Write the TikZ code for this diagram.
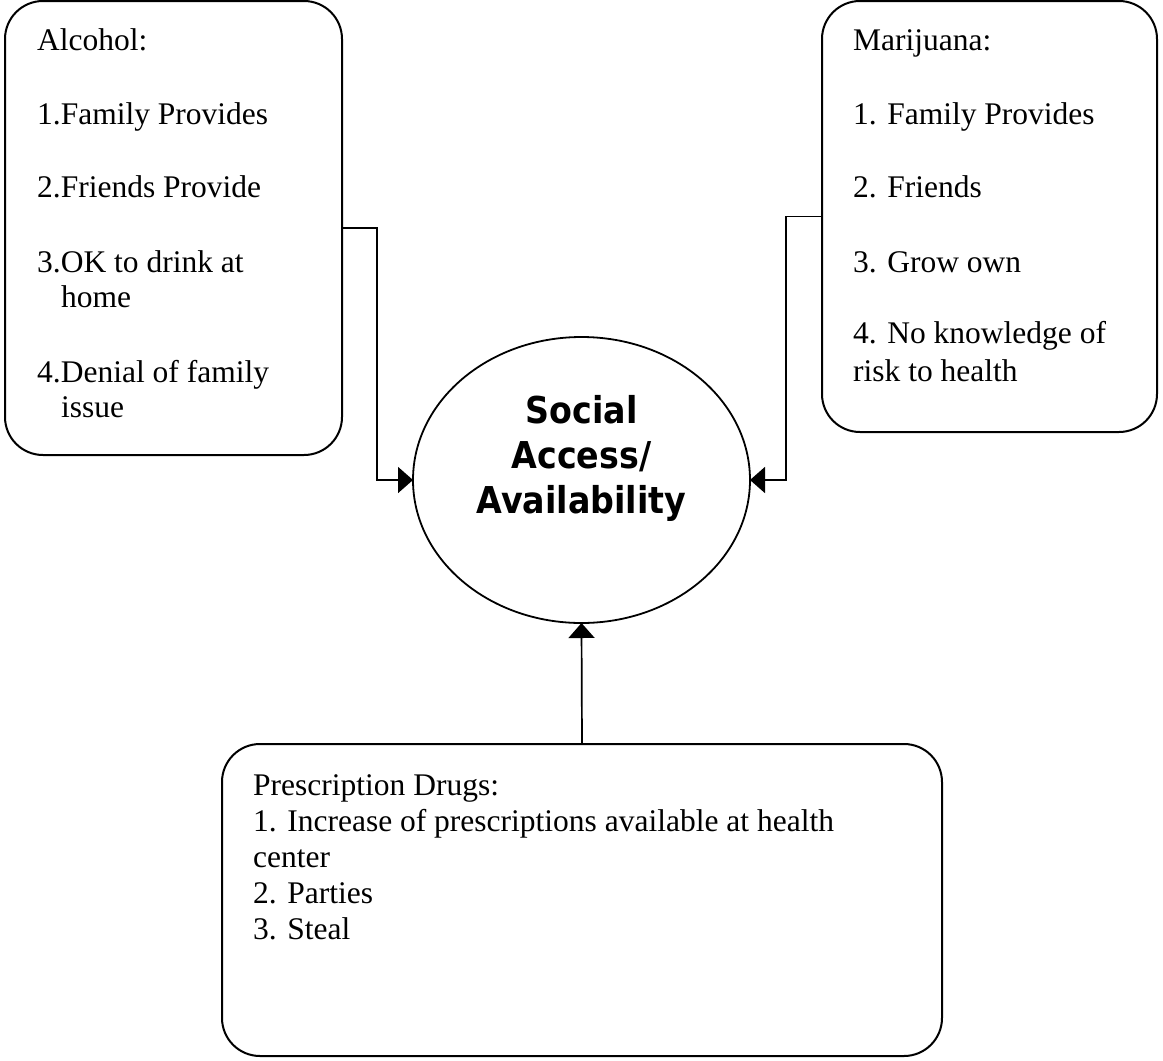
\documentclass[tikz,border=0pt]{standalone}
\usepackage{fontspec}
\setmainfont{Liberation Serif}
\newfontfamily\hubfont{DejaVu Sans Condensed}
\usetikzlibrary{arrows.meta,shapes.geometric}

\tikzset{
  card/.style={draw, line width=2pt, rectangle, rounded corners=38pt,
    inner sep=0pt, outer sep=0pt},
  hubshape/.style={draw, line width=1.8pt, ellipse, inner sep=0pt, outer sep=0pt,
    minimum width=337pt, minimum height=286pt},
  item/.style={anchor=base west, inner sep=0pt, font=\fontsize{31.5}{36}\selectfont},
  hubtext/.style={anchor=base, inner sep=0pt, font=\hubfont\bfseries\fontsize{37}{45}\selectfont},
  conn/.style={line width=1.7pt, -{Triangle[length=15pt,width=26pt]}}
}

\begin{document}
\begin{tikzpicture}[x=1pt, y=-1pt]
  \useasboundingbox (0,0) rectangle (1163,1061);

  % source boxes
  \node[card, minimum width=337pt, minimum height=454pt] (alc) at (173.5,228) {};
  \node[card, minimum width=335pt, minimum height=431pt] (mar) at (989.5,216.5) {};
  \node[card, minimum width=720pt, minimum height=312pt] (rx)  at (582,900) {};

  % central ellipse
  \node[hubshape] (hub) at (581.5,480) {};
  \node[hubtext] (hub1) at (581.5,423) {Social};
  \node[hubtext] (hub2) at (581.5,468) {Access/};
  \node[hubtext] (hub3) at (581.5,513) {Availability};

  % alcohol list
  \node[item] (al0) at (37,50)  {Alcohol:};
  \node[item] (al1) at (37,124) {1.Family Provides};
  \node[item] (al2) at (37,197) {2.Friends Provide};
  \node[item] (al3) at (37,272) {3.OK to drink at};
  \node[item] (al3b) at (61,307) {home};
  \node[item] (al4) at (37,382) {4.Denial of family};
  \node[item] (al4b) at (61,417) {issue};

  % marijuana list
  \node[item] (ma0) at (853,50)  {Marijuana:};
  \node[item] (ma1) at (853,124) {1. Family Provides};
  \node[item] (ma2) at (853,197) {2. Friends};
  \node[item] (ma3) at (853,272) {3. Grow own};
  \node[item] (ma4) at (853,343) {4. No knowledge of};
  \node[item] (ma4b) at (853,381) {risk to health};

  % prescription drugs list
  \node[item] (rx0) at (253,795) {Prescription Drugs:};
  \node[item] (rx1) at (253,831) {1. Increase of prescriptions available at health};
  \node[item] (rx1b) at (253,867) {center};
  \node[item] (rx2) at (253,903) {2. Parties};
  \node[item] (rx3) at (253,939) {3. Steal};

  % connectors into the ellipse
  \draw[conn] (alc.east) -- ++(35,0) |- (hub.west);
  \draw[conn] (mar.west) -- ++(-36,0) |- (hub.east);
  \draw[conn] (rx.north) -- (hub.south);
\end{tikzpicture}
\end{document}
